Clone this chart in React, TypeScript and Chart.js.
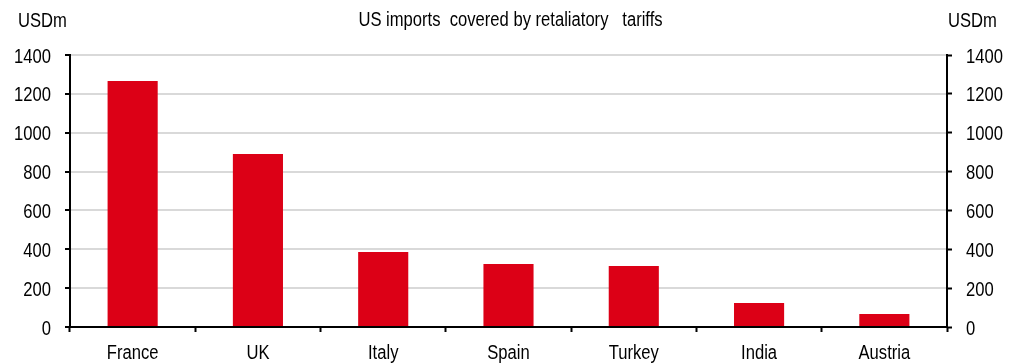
import React, { useEffect, useRef } from "react";
import { Chart, registerables } from "chart.js";

Chart.register(...registerables);

const categories = ["France", "UK", "Italy", "Spain", "Turkey", "India", "Austria"];
const importsCovered = [1266, 890, 386, 324, 314, 124, 67];
const yTicks = [0, 200, 400, 600, 800, 1000, 1200, 1400];
const titleText = "US imports  covered by retaliatory   tariffs";
const unitLabel = "USDm";

const FONT = "'Liberation Sans', Arial, sans-serif";
const SX = 0.83;
const RED = "#dc0016";

function drawNarrow(ctx: CanvasRenderingContext2D, text: string, x: number, y: number, align: CanvasTextAlign) {
  ctx.save();
  ctx.translate(x, y);
  ctx.scale(SX, 1);
  ctx.textAlign = align;
  ctx.fillText(text, 0, 0);
  ctx.restore();
}

const textPlugin = {
  id: "narrowText",
  afterDraw(chart: any) {
    const ctx: CanvasRenderingContext2D = chart.ctx;
    const area = chart.chartArea;
    const yS = chart.scales.y;
    const xS = chart.scales.x;
    ctx.save();
    ctx.fillStyle = "#000";
    ctx.font = `20px ${FONT}`;
    ctx.textBaseline = "alphabetic";
    yTicks.forEach((v) => {
      const py = yS.getPixelForValue(v);
      drawNarrow(ctx, String(v), area.left - 19, py + 7.5, "right");
      drawNarrow(ctx, String(v), area.right + 19, py + 7.5, "left");
    });
    categories.forEach((c, i) => {
      const px = xS.getPixelForValue(i);
      drawNarrow(ctx, c, px, 359, "center");
    });
    drawNarrow(ctx, titleText, (area.left + area.right) / 2 + 2, 26, "center");
    drawNarrow(ctx, unitLabel, 18, 27, "left");
    drawNarrow(ctx, unitLabel, 948, 27, "left");
    ctx.restore();
  },
};

export default function App() {
  const ref = useRef<HTMLCanvasElement | null>(null);
  useEffect(() => {
    if (!ref.current) return;
    const chart = new Chart(ref.current, {
      type: "bar",
      data: {
        labels: categories,
        datasets: [
          {
            data: importsCovered,
            backgroundColor: RED,
            borderWidth: 0,
            barPercentage: 0.4,
            categoryPercentage: 1,
            yAxisID: "y",
          },
        ],
      },
      options: {
        responsive: false,
        animation: false,
        layout: { padding: { top: 55, left: 0, right: 0, bottom: 0 } },
        plugins: {
          legend: { display: false },
          tooltip: { enabled: false },
          title: { display: false },
        },
        scales: {
          x: {
            type: "category",
            grid: {
              offset: true,
              drawOnChartArea: false,
              tickColor: "#000",
              tickLength: 5,
              tickWidth: 2,
            },
            border: { color: "#000", width: 2 },
            ticks: { display: false },
            afterFit(scale: any) {
              scale.height = 36;
            },
          },
          y: {
            position: "left",
            min: 0,
            max: 1400,
            afterBuildTicks(scale: any) {
              scale.ticks = yTicks.map((v) => ({ value: v }));
            },
            grid: {
              color: "#d9d9d9",
              lineWidth: 2,
              tickColor: "#000",
              tickLength: 5,
              tickWidth: 2,
            },
            border: { color: "#000", width: 2 },
            ticks: { display: false },
            afterFit(scale: any) {
              scale.width = 70;
            },
          },
          y2: {
            position: "right",
            min: 0,
            max: 1400,
            afterBuildTicks(scale: any) {
              scale.ticks = yTicks.map((v) => ({ value: v }));
            },
            grid: {
              drawOnChartArea: false,
              tickColor: "#000",
              tickLength: 5,
              tickWidth: 2,
            },
            border: { color: "#000", width: 2 },
            ticks: { display: false },
            afterFit(scale: any) {
              scale.width = 67;
            },
          },
        },
      },
      plugins: [textPlugin],
    });
    return () => chart.destroy();
  }, []);
  return (
    <div style={{ position: "fixed", left: 0, top: 0, width: 1014, height: 363, background: "#fff" }}>
      <canvas ref={ref} width={1014} height={363} style={{ display: "block" }} />
    </div>
  );
}
